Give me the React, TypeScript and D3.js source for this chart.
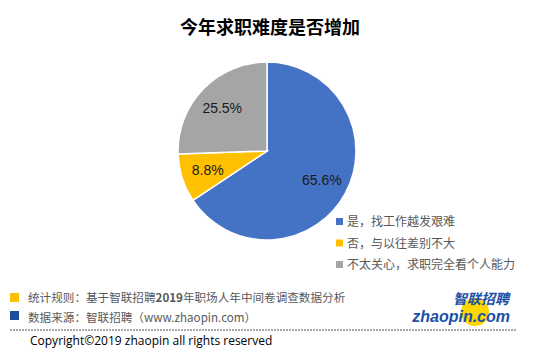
import React from "react";
import * as d3 from "d3";

const categories = ["是，找工作越发艰难", "否，与以往差别不大", "不太关心，求职完全看个人能力"];
const values = [65.6, 8.8, 25.5];
const labels = ["65.6%", "8.8%", "25.5%"];
const colors = ["#4472C4", "#FFC000", "#A5A5A5"];

const width = 540;
const height = 352;
const cx = 267;
const cy = 151;
const radius = 89;

const App: React.FC = () => {
  const pie = d3.pie<number>().sort(null).value((d) => d);
  const arcs = pie(values);
  const arc = d3.arc<d3.PieArcDatum<number>>().innerRadius(0).outerRadius(radius);
  const labelArc = d3
    .arc<d3.PieArcDatum<number>>()
    .innerRadius(radius * 0.7)
    .outerRadius(radius * 0.7);

  const font = "'Noto Sans CJK SC', 'Microsoft YaHei', sans-serif";

  return (
    <svg
      width={width}
      height={height}
      style={{ position: "absolute", left: 0, top: 0, background: "#fff" }}
      fontFamily={font}
    >
      <text x={270} y={34} textAnchor="middle" fontSize={18} fontWeight="bold" fill="#000">
        今年求职难度是否增加
      </text>

      <g transform={`translate(${cx},${cy})`}>
        {arcs.map((a, i) => (
          <path key={i} d={arc(a) as string} fill={colors[i]} stroke="#fff" strokeWidth={1.5} />
        ))}
        {arcs.map((a, i) => {
          const [lx, ly] = labelArc.centroid(a);
          return (
            <text
              key={i}
              x={lx}
              y={ly}
              dy="0.35em"
              textAnchor="middle"
              fontSize={14}
              fill="#1a1a1a"
              fontFamily="'Liberation Sans', Arial, sans-serif"
            >
              {labels[i]}
            </text>
          );
        })}
      </g>

      {/* legend */}
      <g transform="translate(336,218)">
        {categories.map((c, i) => (
          <g key={i} transform={`translate(0,${i * 21.5})`}>
            <rect x={0} y={0} width={7} height={7} fill={colors[i]} />
            <text x={11} y={4} dy="0.35em" fontSize={12} fill="#595959">
              {c}
            </text>
          </g>
        ))}
      </g>

      {/* notes */}
      <rect x={10} y={293} width={9} height={9} fill="#FFC000" />
      <text x={28} y={302} fontSize={11.6} fill="#595959">
        统计规则：基于智联招聘<tspan fontWeight="bold">2019</tspan>年职场人年中间卷调查数据分析
      </text>
      <rect x={10} y={311} width={9} height={9} fill="#1F4E9A" />
      <text x={28} y={322} fontSize={11.6} fill="#595959">
        数据来源：智联招聘（www.zhaopin.com）
      </text>
      <line x1={10} y1={330} x2={516} y2={330} stroke="#555" strokeWidth={1} strokeDasharray="2,1" />
      <text x={30} y={345} fontSize={12} fill="#000" fontFamily="'Open Sans', 'Liberation Sans', sans-serif">
        Copyright©2019 zhaopin all rights reserved
      </text>

      {/* logo */}
      <circle cx={475} cy={312} r={14} fill="#FFD700" />
      <text x={509} y={304} textAnchor="end" fontSize={14} fontWeight="bold" fontStyle="italic" fill="#1B4FA8">
        智联招聘
      </text>
      <text
        x={510}
        y={322}
        textAnchor="end"
        fontSize={16}
        fontWeight="bold"
        fontStyle="italic"
        fill="#1B4FA8"
        fontFamily="'Liberation Sans', Arial, sans-serif"
      >
        zhaopin.com
      </text>
    </svg>
  );
};

export default App;
